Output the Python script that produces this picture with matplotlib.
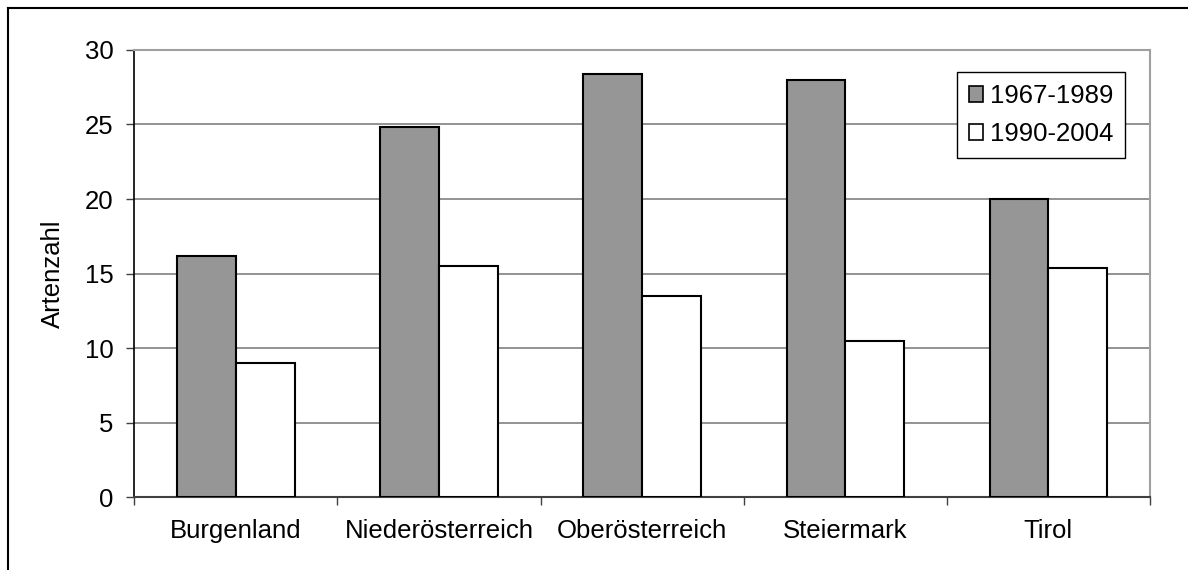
import matplotlib
matplotlib.use("Agg")
import matplotlib.pyplot as plt
from matplotlib.patches import Patch
from matplotlib.lines import Line2D
import numpy as np

plt.rcParams['font.family'] = ['Liberation Sans', 'DejaVu Sans']

regions = ["Burgenland", "Niederösterreich", "Oberösterreich", "Steiermark", "Tirol"]
period_labels = ["1967-1989", "1990-2004"]
species_1967_1989 = [16.2, 24.8, 28.4, 28.0, 20.0]
species_1990_2004 = [9.0, 15.5, 13.5, 10.5, 15.4]
yticks = [0, 5, 10, 15, 20, 25, 30]

FS = 18.5
fig = plt.figure(figsize=(11.88, 5.70), dpi=100)
ax = fig.add_axes([0.1131, 0.128, 0.8549, 0.7843])

x = np.arange(len(regions))
bw = 0.289
ax.bar(x - bw / 2, species_1967_1989, width=bw, color="#969696",
       edgecolor="black", linewidth=1.5, zorder=3, label=period_labels[0])
ax.bar(x + bw / 2, species_1990_2004, width=bw, color="white",
       edgecolor="black", linewidth=1.5, zorder=3, label=period_labels[1])

ax.set_xlim(-0.5, len(regions) - 0.5)
ax.set_ylim(0, 30)
ax.set_yticks(yticks)
ax.set_yticklabels([str(v) for v in yticks], fontsize=FS)
ax.yaxis.grid(True, color="#808080", linewidth=1.2, zorder=0)
ax.set_axisbelow(True)

# categories labelled at centres, ticks at the boundaries
ax.set_xticks(x)
ax.set_xticklabels(regions, fontsize=FS)
ax.tick_params(axis="x", which="major", length=0, pad=16)
ax.set_xticks(np.arange(-0.5, len(regions)), minor=True)
ax.tick_params(axis="x", which="minor", length=6, width=1, color="#404040", direction="out")
ax.tick_params(axis="y", length=6, width=1, color="#404040", direction="out", pad=9)

ax.set_ylabel("Artenzahl", fontsize=FS, labelpad=14)

ax.spines["left"].set_color("black")
ax.spines["left"].set_linewidth(1.2)
ax.spines["bottom"].set_color("#404040")
ax.spines["bottom"].set_linewidth(1.5)
for s in ("top", "right"):
    ax.spines[s].set_color("#a0a0a0")
    ax.spines[s].set_linewidth(1.5)

handles = [Patch(facecolor="#969696", edgecolor="black", linewidth=1.2),
           Patch(facecolor="white", edgecolor="black", linewidth=1.2)]
leg = ax.legend(handles, period_labels, loc="upper left",
                bbox_to_anchor=(0.810, 0.950), fontsize=FS,
                handlelength=0.55, handleheight=0.55, handletextpad=0.3,
                labelspacing=0.55, borderpad=0.45, borderaxespad=0,
                fancybox=False, framealpha=1, edgecolor="black")
leg.get_frame().set_linewidth(1.0)
leg.set_zorder(5)

# outer frame (top and left edges)
fig.add_artist(Line2D([8 / 1188, 1.0], [1 - 8 / 570, 1 - 8 / 570],
                      transform=fig.transFigure, color="black", linewidth=1.5))
fig.add_artist(Line2D([8 / 1188, 8 / 1188], [0.0, 1 - 8 / 570],
                      transform=fig.transFigure, color="black", linewidth=1.5))

fig.savefig("out.png", dpi=100)
